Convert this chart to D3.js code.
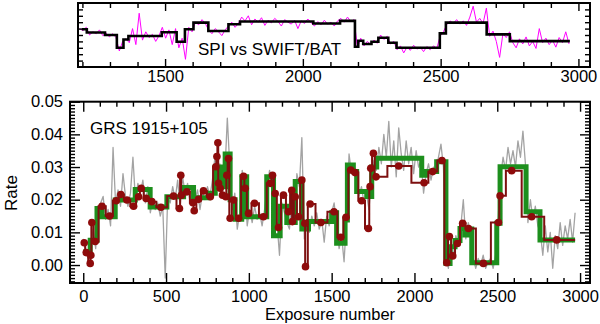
<!DOCTYPE html>
<html>
<head>
<meta charset="utf-8">
<script src="https://cdn.jsdelivr.net/npm/d3@7"></script>
<style>
  body { margin: 0; background: #fff; }
  svg { display: block; }
</style>
</head>
<body>
<svg width="600" height="324"></svg>
<script>
// SPI vs SWIFT/BAT (top) and GRS 1915+105 rate vs exposure number (bottom)

// top panel: SWIFT/BAT points every 12 exposures starting at 1190
var batStart = 1190, batStep = 12;
var batFlux = [
  0.60,0.57,0.62,0.50,0.55,0.52,0.58,0.49,0.53,0.47,
  0.52,0.46,0.25,0.40,0.44,0.38,0.60,0.35,0.84,0.42,
  0.55,0.46,0.51,0.40,0.49,0.62,0.45,0.58,0.35,0.60,
  0.30,0.45,0.12,0.62,0.55,0.70,0.66,0.74,0.68,0.58,
  0.52,0.60,0.55,0.49,0.58,0.64,0.70,0.62,0.68,0.78,
  0.72,0.80,0.66,0.75,0.70,0.77,0.65,0.73,0.69,0.76,
  0.71,0.64,0.74,0.70,0.67,0.73,0.60,0.72,0.68,0.75,
  0.69,0.64,0.71,0.66,0.73,0.67,0.70,0.64,0.72,0.76,
  0.70,0.78,0.71,0.74,0.30,0.45,0.33,0.40,0.35,0.42,
  0.37,0.50,0.43,0.48,0.36,0.40,0.27,0.33,0.22,0.31,
  0.26,0.34,0.28,0.31,0.24,0.32,0.27,0.33,0.29,0.48,
  0.55,0.66,0.72,0.68,0.74,0.67,0.72,0.65,0.78,0.95,
  0.70,0.76,0.68,0.92,0.48,0.56,0.40,0.15,0.52,0.46,
  0.55,0.38,0.30,0.44,0.36,0.47,0.33,0.40,0.29,0.60,
  0.38,0.45,0.35,0.42,0.31,0.46,0.38,0.55,0.36
];

// top panel: SPI blocks (edges, one more than levels)
var spiEdges = [1198,1216,1282,1325,1349,1367,1488,1542,1572,1603,1657,1730,1772,2038,
                2135,2189,2201,2219,2249,2274,2310,2340,2497,2519,2667,2751,2969];
var spiLevels = [0.59,0.54,0.50,0.30,0.43,0.484,0.542,0.394,0.589,0.694,0.563,0.668,0.71,
                 0.68,0.72,0.316,0.41,0.36,0.394,0.457,0.378,0.30,0.526,0.694,0.51,0.405];

// bottom panel: raw rate, one value every 15 exposures from 0
var grayStart = 0, grayStep = 15;
var grayRate = [
  0.008,0.004,0.002,0.006,0.011,0.005,0.016,0.019,0.021,0.014,
  0.017,0.012,0.036,0.019,0.023,0.018,0.028,0.021,0.018,0.022,
  0.033,0.020,0.025,0.022,0.026,0.019,0.024,0.016,0.020,0.017,
  0.019,0.015,0.018,-0.004,0.021,0.019,0.024,0.020,0.026,0.018,
  0.027,0.022,0.025,0.019,0.024,0.020,0.023,0.017,0.022,0.020,
  0.024,0.021,0.026,0.033,0.027,0.031,0.022,0.028,0.045,0.030,
  0.017,0.022,0.011,0.016,0.029,0.024,0.012,0.017,0.013,0.018,
  0.014,0.016,0.012,0.017,0.024,0.029,0.025,0.010,0.013,0.003,
  0.019,0.016,0.013,0.011,0.021,0.015,0.028,0.024,0.039,0.008,
  0.013,0.010,0.015,0.012,0.016,0.011,0.014,0.007,0.015,0.012,
  0.016,0.019,0.012,0.005,0.009,0.001,0.014,0.034,0.028,0.031,
  0.026,0.021,0.024,0.019,0.022,0.017,0.026,0.032,0.029,0.036,
  0.031,0.040,0.033,0.044,0.030,0.038,0.027,0.042,0.034,0.029,
  0.038,0.031,0.036,0.028,0.035,0.030,0.032,0.022,0.028,0.031,
  0.026,0.030,0.029,0.033,0.037,0.030,0.003,-0.001,0.006,0.003,
  0.009,0.006,0.012,0.020,0.008,0.013,0.010,0.002,-0.001,0.002,
  0.000,0.003,-0.001,0.001,0.002,-0.001,0.003,0.014,0.027,0.033,
  0.029,0.036,0.031,0.035,0.030,0.038,0.033,0.041,0.031,0.013,
  0.020,0.014,0.018,0.012,0.010,0.003,0.012,0.004,0.010,-0.001,
  0.009,0.005,0.013,0.006,0.012,0.008,0.014,0.007,0.016
];

// bottom panel: green blocks
var greenEdges = [0,42,83,113,193,314,404,505,606,666,757,797,827,857,887,917,957,987,1108,1149,
                  1189,1229,1280,1320,1360,1500,1530,1581,1595,1631,1651,1712,1742,1772,2044,2074,
                  2134,2190,2215,2245,2275,2306,2326,2346,2497,2517,2674,2758,2970];
var greenLevels = [0.0041,0.0076,0.0173,0.0148,0.0199,0.0231,0.0178,0.0209,0.0237,0.0206,
                   0.0220,0.0300,0.0240,0.0340,0.0200,0.0140,0.0270,0.0148,0.0270,0.0090,
                   0.0180,0.0130,0.0256,0.0110,0.0133,0.0160,0.0067,0.0138,0.0306,0.0286,
                   0.0225,0.0210,0.0300,0.0327,0.0275,0.0286,0.0316,0.0005,0.0056,0.0075,
                   0.0112,0.0092,0.0110,0.0007,0.0128,0.0301,0.0163,0.0077];

// bottom panel: red points
var redX = [6,18,42,46,52,72,113,159,199,227,264,304,334,350,380,414,469,545,581,589,593,626,662,670,
            696,726,767,801,807,813,817,827,841,861,867,877,887,907,938,968,978,998,1034,1088,1129,
            1143,1159,1179,1209,1239,1259,1263,1280,1300,1320,1338,1342,1370,1435,1514,1555,1587,
            1615,1641,1681,1722,1732,1736,1752,1768,1905,2058,2110,2166,2195,2211,2231,2259,2291,
            2326,2416,2507,2517,2587,2708,2859];
var redY = [0.0068,0.0038,0.0005,0.0030,0.0130,0.0072,0.0180,0.0150,0.0197,0.0216,0.0199,0.0180,
            0.0209,0.0235,0.0204,0.0194,0.0177,0.0211,0.0173,0.0275,0.0214,0.0224,0.0191,0.0166,
            0.0201,0.0227,0.0209,0.0301,0.0332,0.0374,0.0250,0.0235,0.0214,0.0209,0.0275,0.0326,
            0.0143,0.0199,0.0143,0.0272,0.0235,0.0158,0.0189,0.0148,0.0250,0.0275,0.0219,0.0115,
            0.0214,0.0163,0.0229,0.0133,0.0209,0.0148,0.0260,0.0128,-0.0005,0.0187,0.0130,0.0163,
            0.0085,0.0146,0.0291,0.0283,0.0197,0.0112,0.0240,0.0296,0.0342,0.0270,0.0303,0.0252,
            0.0286,0.0320,0.0007,0.0087,0.0028,0.0066,0.0128,0.0112,0.0005,0.0130,0.0212,0.0289,
            0.0148,0.0077];
var redEnd = 2970;

var xMajor = [0, 500, 1000, 1500, 2000, 2500, 3000];
var yMajor = [0, 0.01, 0.02, 0.03, 0.04, 0.05];
var topMajor = [1500, 2000, 2500, 3000];

var font = '"Liberation Sans", Arial, Helvetica, sans-serif';
var svg = d3.select("svg");

// scales
var xTop = d3.scaleLinear().domain([1184, 3042]).range([78, 590]);
var yTop = d3.scaleLinear().domain([0, 1]).range([67, 3]);
var x = d3.scaleLinear().domain([-80, 3060]).range([70, 590]);
var y = d3.scaleLinear().domain([-0.0055, 0.05]).range([283, 101.7]);

function axis(gen, tr, values, size, fmt, pad) {
  var g = svg.append("g")
    .attr("transform", tr)
    .call(gen.tickValues(values).tickSize(size).tickSizeOuter(0)
      .tickPadding(pad || 3).tickFormat(fmt || function() { return ""; }));
  g.select(".domain").remove();
  g.selectAll("line").attr("stroke", "#000").attr("stroke-width", 1.4);
  g.selectAll("text").attr("font-family", font).attr("font-size", 16.5).attr("fill", "#000");
  return g;
}

// ---------- top panel ----------
var topMinor = d3.range(1200, 3001, 100).filter(function(d) { return d % 500; });
var topY = d3.range(1, 10).map(function(i) { return i / 10; });

svg.append("path")
  .datum(batFlux)
  .attr("fill", "none")
  .attr("stroke", "#ff00ff")
  .attr("stroke-width", 1)
  .attr("d", d3.line()
    .x(function(d, i) { return xTop(batStart + i * batStep); })
    .y(function(d) { return yTop(d); }));

var spiPts = spiEdges.map(function(e, i) { return [e, spiLevels[Math.min(i, spiLevels.length - 1)]]; });
svg.append("path")
  .datum(spiPts)
  .attr("fill", "none")
  .attr("stroke", "#000")
  .attr("stroke-width", 2.6)
  .attr("d", d3.line().curve(d3.curveStepAfter)
    .x(function(d) { return xTop(d[0]); })
    .y(function(d) { return yTop(d[1]); }));

axis(d3.axisBottom(xTop), "translate(0,67)", topMajor, -8, d3.format("d"), 3);
axis(d3.axisBottom(xTop), "translate(0,67)", topMinor, -5);
axis(d3.axisTop(xTop), "translate(0,3)", topMajor, -8);
axis(d3.axisTop(xTop), "translate(0,3)", topMinor, -5);
axis(d3.axisLeft(yTop), "translate(78,0)", topY, -5);
axis(d3.axisRight(yTop), "translate(590,0)", topY, -5);

svg.append("rect")
  .attr("x", 78).attr("y", 3).attr("width", 512).attr("height", 64)
  .attr("fill", "none").attr("stroke", "#000").attr("stroke-width", 2);

svg.append("text")
  .attr("x", 198).attr("y", 55)
  .attr("font-family", font).attr("font-size", 17)
  .text("SPI vs SWIFT/BAT");

// ---------- bottom panel ----------
var xMinor = d3.range(0, 3001, 100).filter(function(d) { return d % 500; });
var yMinor = d3.range(-5, 51).filter(function(i) { return i % 10; }).map(function(i) { return i / 1000; });

svg.append("path")
  .datum(grayRate)
  .attr("fill", "none")
  .attr("stroke", "#a3a3a3")
  .attr("stroke-width", 1.3)
  .attr("stroke-linejoin", "round")
  .attr("d", d3.line()
    .x(function(d, i) { return x(grayStart + i * grayStep); })
    .y(function(d) { return y(d); }));

var greenPts = greenEdges.map(function(e, i) { return [e, greenLevels[Math.min(i, greenLevels.length - 1)]]; });
svg.append("path")
  .datum(greenPts)
  .attr("fill", "none")
  .attr("stroke", "#1d8f1d")
  .attr("stroke-width", 5)
  .attr("d", d3.line().curve(d3.curveStepAfter)
    .x(function(d) { return x(d[0]); })
    .y(function(d) { return y(d[1]); }));

var redPts = redX.map(function(d, i) { return [d, redY[i]]; });
var redLinePts = redPts.concat([[redEnd, redY[redY.length - 1]]]);
svg.append("path")
  .datum(redLinePts)
  .attr("fill", "none")
  .attr("stroke", "#7d0f0f")
  .attr("stroke-width", 2)
  .attr("d", d3.line().curve(d3.curveStep)
    .x(function(d) { return x(d[0]); })
    .y(function(d) { return y(d[1]); }));

svg.append("g")
  .selectAll("circle")
  .data(redPts)
  .enter().append("circle")
    .attr("cx", function(d) { return x(d[0]); })
    .attr("cy", function(d) { return y(d[1]); })
    .attr("r", 3.8)
    .attr("fill", "#8e0b0b");

axis(d3.axisBottom(x), "translate(0,283)", xMajor, -10, d3.format("d"), 7);
axis(d3.axisBottom(x), "translate(0,283)", xMinor, -5);
axis(d3.axisTop(x), "translate(0,101.7)", xMajor, -10);
axis(d3.axisTop(x), "translate(0,101.7)", xMinor, -5);
axis(d3.axisLeft(y), "translate(70,0)", yMajor, -10, d3.format(".2f"), 7);
axis(d3.axisLeft(y), "translate(70,0)", yMinor, -5);
axis(d3.axisRight(y), "translate(590,0)", yMajor, -10);
axis(d3.axisRight(y), "translate(590,0)", yMinor, -5);

svg.append("rect")
  .attr("x", 70).attr("y", 101.7).attr("width", 520).attr("height", 181.3)
  .attr("fill", "none").attr("stroke", "#000").attr("stroke-width", 2);

svg.append("text")
  .attr("x", 90).attr("y", 134)
  .attr("font-family", font).attr("font-size", 17)
  .text("GRS 1915+105");

svg.append("text")
  .attr("x", 330).attr("y", 320)
  .attr("text-anchor", "middle")
  .attr("font-family", font).attr("font-size", 16.5)
  .text("Exposure number");

svg.append("text")
  .attr("transform", "translate(17,193) rotate(-90)")
  .attr("text-anchor", "middle")
  .attr("font-family", font).attr("font-size", 17)
  .text("Rate");
</script>
</body>
</html>
